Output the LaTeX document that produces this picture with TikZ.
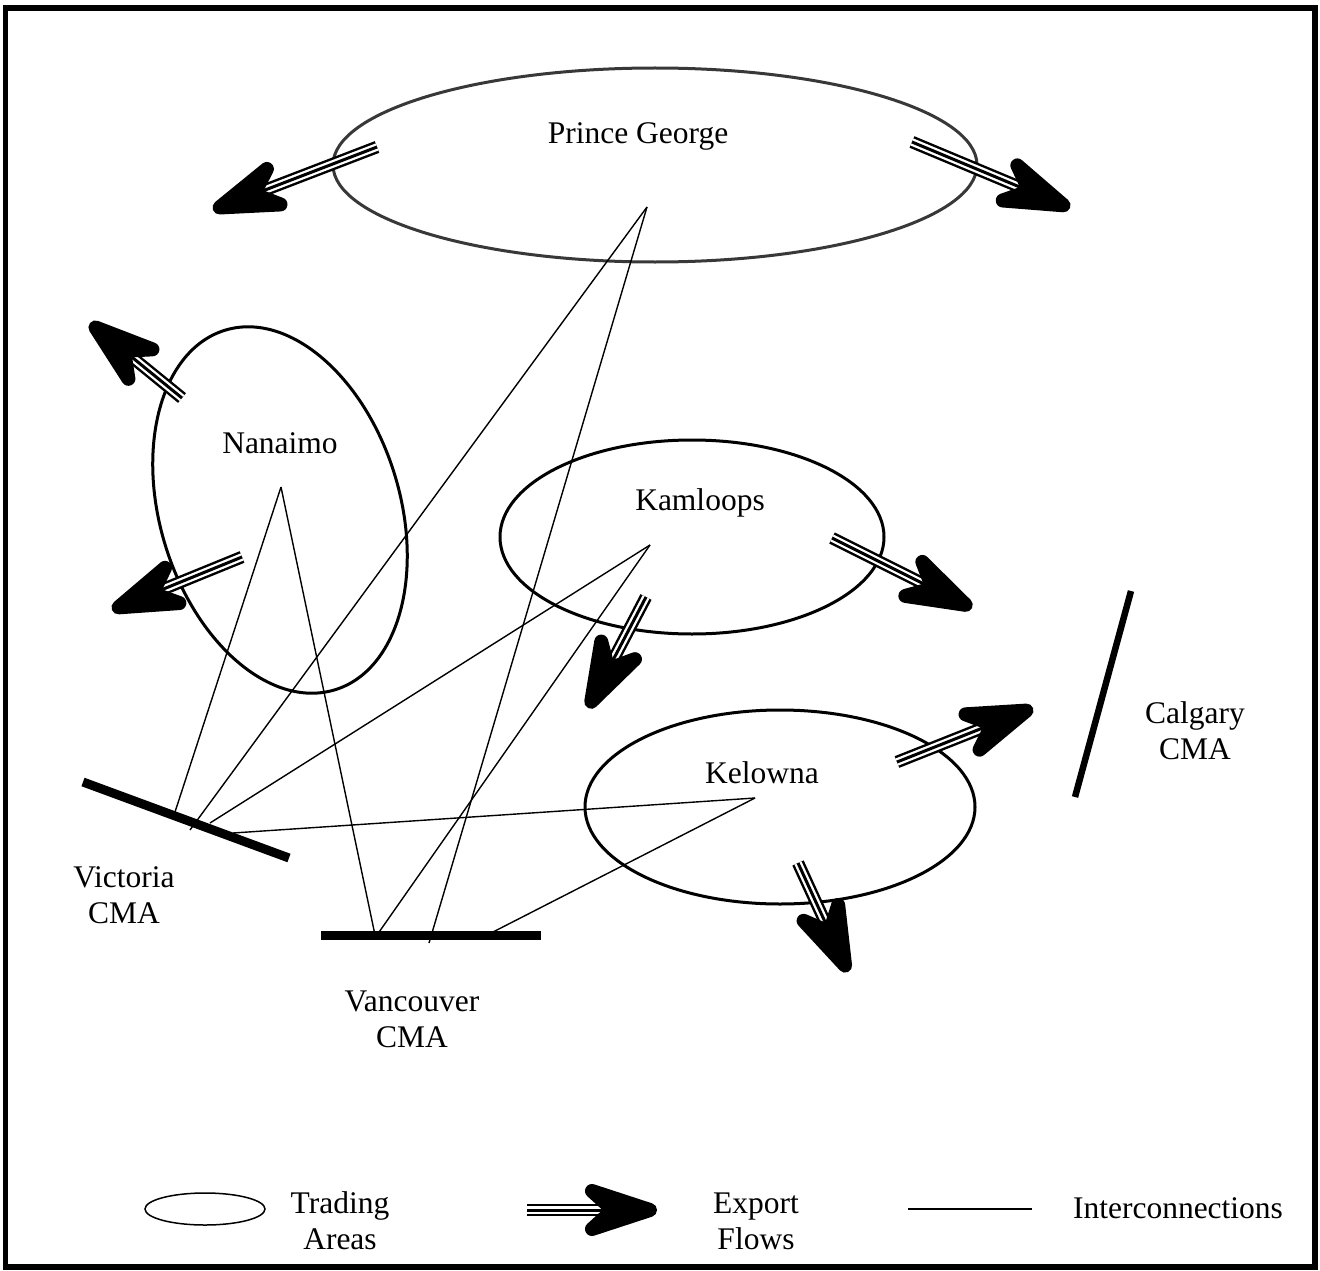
\documentclass[tikz,border=0pt]{standalone}
\usepackage{fontspec}
\setmainfont{Liberation Serif}
\usetikzlibrary{shapes.geometric,calc}
\newcommand\exflow[2]{%
  \coordinate (xt) at ($(#2)!7pt!(#1)$);
  \coordinate (xn) at ($(xt)!37pt!(#1)$);
  \coordinate (xb) at ($(xt)!58pt!(#1)$);
  \coordinate (xc1) at ($(xb)!19pt!90:(xt)$);
  \coordinate (xc2) at ($(xb)!19pt!-90:(xt)$);
  \draw[line width=12.5pt] (#1) -- (xn);
  \draw[white, line width=7.6pt] (#1) -- (xn);
  \draw[line width=3pt] (#1) -- (xn);
  \filldraw[line width=14pt, line join=round] (xt) -- (xc1) -- (xn) -- (xc2) -- cycle;
}
\begin{document}
\begin{tikzpicture}[x=1pt,y=-1pt,
  lbl/.style={font=\fontsize{31.5}{36}\selectfont, align=center, inner sep=0pt},
  area/.style={draw, ellipse, line width=3pt, inner sep=0pt},
  link/.style={line width=1.4pt},
  cma/.style={line width=9pt}
]
\useasboundingbox (0,0) rectangle (1320,1271);
\draw[line width=5.5pt] (5.5,8) rectangle (1315,1267);

% trading areas
\node[area, draw=black!78, minimum width=644pt, minimum height=194pt] (pgA) at (655,165) {};
\node[area, minimum width=240pt, minimum height=376pt, rotate=17] (naA) at (280,510) {};
\node[area, minimum width=384pt, minimum height=194pt] (kaA) at (692,537) {};
\node[area, minimum width=390pt, minimum height=194pt] (keA) at (780,807) {};

\node[lbl, anchor=base] (pgL) at (638,143) {Prince George};
\node[lbl, anchor=base] (naL) at (280,453) {Nanaimo};
\node[lbl, anchor=base] (kaL) at (700,510) {Kamloops};
\node[lbl, anchor=base] (keL) at (762,783) {Kelowna};

% hubs
\coordinate (pg) at (647,207);
\coordinate (na) at (281,487);
\coordinate (ka) at (650,545);
\coordinate (ke) at (755,798);

% CMAs
\coordinate (vi1) at (83,782);
\coordinate (vi2) at (289,858);
\coordinate (va1) at (321,935);
\coordinate (va2) at (541,935);
\coordinate (ca1) at (1131,591);
\coordinate (ca2) at (1075,797);
\draw[cma] (vi1) -- (vi2);
\draw[cma] (va1) -- (va2);
\draw[line width=6.5pt] (ca1) -- (ca2);
\node[lbl] (viL) at (124,895) {Victoria\\CMA};
\node[lbl] (vaL) at (412,1019) {Vancouver\\CMA};
\node[lbl] (caL) at (1195,731) {Calgary\\CMA};

% interconnections
\coordinate (viPG) at (190,830);
\coordinate (viNA) at (175,812);
\coordinate (viKA) at (210,823);
\coordinate (viKE) at (233,833);
\coordinate (vaPG) at (429,943);
\coordinate (vaNA) at (375,935);
\coordinate (vaKA) at (377,935);
\coordinate (vaKE) at (493,932);
\draw[link] (pg) -- (viPG);
\draw[link] (pg) -- (vaPG);
\draw[link] (na) -- (viNA);
\draw[link] (na) -- (vaNA);
\draw[link] (ka) -- (viKA);
\draw[link] (ka) -- (vaKA);
\draw[link] (ke) -- (viKE);
\draw[link] (ke) -- (vaKE);

% export flows
\coordinate (s1) at (377,147); \coordinate (e1) at (213,210);
\coordinate (s2) at (912,142); \coordinate (e2) at (1070,208);
\coordinate (s3) at (182,398); \coordinate (e3) at (90,323);
\coordinate (s4) at (242,557); \coordinate (e4) at (112,610);
\coordinate (s5) at (646,597); \coordinate (e5) at (588,708);
\coordinate (s6) at (832,538); \coordinate (e6) at (972,608);
\coordinate (s7) at (897,762); \coordinate (e7) at (1033,708);
\coordinate (s8) at (798,863); \coordinate (e8) at (848,972);
\exflow{s1}{e1}
\exflow{s2}{e2}
\exflow{s3}{e3}
\exflow{s4}{e4}
\exflow{s5}{e5}
\exflow{s6}{e6}
\exflow{s7}{e7}
\exflow{s8}{e8}

% legend
\node[draw, ellipse, line width=1.5pt, minimum width=120pt, minimum height=32pt, inner sep=0pt] (lgA) at (205,1209) {};
\node[lbl] (lgAL) at (340,1221) {Trading\\Areas};
\coordinate (ls) at (527,1210); \coordinate (le) at (657,1210);
\exflow{ls}{le}
\node[lbl] (lgEL) at (756,1221) {Export\\Flows};
\coordinate (li1) at (908,1209); \coordinate (li2) at (1032,1209);
\draw[link] (li1) -- (li2);
\node[lbl, anchor=base] (lgIL) at (1178,1218) {Interconnections};
\end{tikzpicture}
\end{document}
